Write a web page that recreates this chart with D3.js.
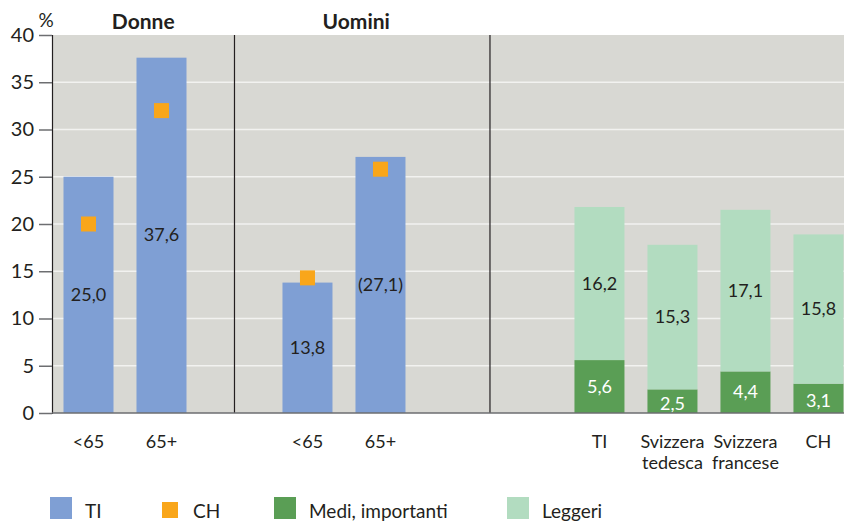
<!DOCTYPE html>
<html>
<head>
<meta charset="utf-8">
<script src="https://cdn.jsdelivr.net/npm/d3@7"></script>
<style>
  body { margin: 0; background: #fff; }
  svg text { font-family: Lato, "Open Sans", sans-serif; fill: #231f20; }
</style>
</head>
<body>
<div id="chart"></div>
<script>
// Data
var groupTitles = ["Donne", "Uomini"];
var ageCats = ["<65", "65+", "<65", "65+"];
var ageSlots = [0, 1, 3, 4];
var tiValues = [25.0, 37.6, 13.8, 27.1];
var tiLabels = ["25,0", "37,6", "13,8", "(27,1)"];
var chValues = [20.0, 32.0, 14.3, 25.8];

var regionCats = [["TI"], ["Svizzera", "tedesca"], ["Svizzera", "francese"], ["CH"]];
var regionSlots = [7, 8, 9, 10];
var mediValues = [5.6, 2.5, 4.4, 3.1];
var leggeriValues = [16.2, 15.3, 17.1, 15.8];

var yTicks = [0, 5, 10, 15, 20, 25, 30, 35, 40];
var legendItems = ["TI", "CH", "Medi, importanti", "Leggeri"];

var fmt = function(v) { return d3.format(".1f")(v).replace(".", ","); };

//Helper variables
var width = 844, height = 521;
var margin = {top: 35, bottom: 108, left: 52};

var svg = d3.select("#chart").append("svg")
    .attr("width", width)
    .attr("height", height);

var x = d3.scaleLinear().domain([-0.5, 10.35]).range([margin.left, width]);
var y = d3.scaleLinear().domain([0, 40]).range([height - margin.bottom, margin.top]);
var barW = 50;

var col = {ti: "#7f9fd4", ch: "#f9a61a", medi: "#5a9e55", leggeri: "#b2dcc0", bg: "#d8d8d3"};

// plot background
svg.append("rect")
    .attr("x", x(-0.5)).attr("y", y(40))
    .attr("width", x(10.35) - x(-0.5)).attr("height", y(0) - y(40))
    .attr("fill", col.bg);

// grid
svg.append("g").selectAll("line")
    .data(yTicks.filter(function(d) { return d > 0 && d < 40; }))
    .join("line")
    .attr("x1", x(-0.5)).attr("x2", width)
    .attr("y1", function(d) { return y(d); }).attr("y2", function(d) { return y(d); })
    .attr("stroke", "#f2f2f0").attr("stroke-width", 1.5);

// y axis
var yAxis = d3.axisLeft(y).tickValues(yTicks).tickSize(13).tickPadding(5);
var gy = svg.append("g")
    .attr("transform", "translate(" + x(-0.5) + ",0)")
    .call(yAxis);
gy.select(".domain").attr("stroke", "#231f20").attr("stroke-width", 1.2);
gy.selectAll(".tick line").attr("stroke", "#6d6e71").attr("stroke-width", 1.5);
gy.selectAll(".tick text").style("font-size", "20px").attr("fill", "#231f20");

svg.append("text").attr("x", 46).attr("y", 27).attr("text-anchor", "middle")
    .style("font-size", "19px").text("%");

// group dividers
svg.append("g").selectAll("line")
    .data([2, 5.5])
    .join("line")
    .attr("x1", function(d) { return x(d); }).attr("x2", function(d) { return x(d); })
    .attr("y1", y(40)).attr("y2", y(0))
    .attr("stroke", "#231f20").attr("stroke-width", 1.2);

// group titles
svg.append("g").selectAll("text")
    .data(groupTitles)
    .join("text")
    .attr("x", function(d, i) { return i == 0 ? (x(-0.5) + x(2)) / 2 : (x(2) + x(5.5)) / 2 - 6; })
    .attr("y", 29)
    .attr("text-anchor", "middle")
    .style("font-size", "21px").style("font-weight", "bold")
    .text(function(d) { return d; });

// TI bars
svg.append("g").selectAll("rect")
    .data(tiValues)
    .join("rect")
    .attr("x", function(d, i) { return x(ageSlots[i]) - barW / 2; })
    .attr("y", function(d) { return y(d); })
    .attr("width", barW)
    .attr("height", function(d) { return y(0) - y(d); })
    .attr("fill", col.ti);

svg.append("g").selectAll("text")
    .data(tiValues)
    .join("text")
    .attr("x", function(d, i) { return x(ageSlots[i]); })
    .attr("y", function(d) { return y(d / 2) + 6; })
    .attr("text-anchor", "middle")
    .style("font-size", "18px")
    .text(function(d, i) { return tiLabels[i]; });

// CH markers
svg.append("g").selectAll("rect")
    .data(chValues)
    .join("rect")
    .attr("x", function(d, i) { return x(ageSlots[i]) - 7.5; })
    .attr("y", function(d) { return y(d) - 7.5; })
    .attr("width", 15).attr("height", 15)
    .attr("fill", col.ch);

// stacked bars
var stackData = mediValues.map(function(m, i) { return {medi: m, leggeri: leggeriValues[i], slot: regionSlots[i]}; });
var series = d3.stack().keys(["medi", "leggeri"])(stackData);

svg.append("g").selectAll("g")
    .data(series)
    .join("g")
    .attr("fill", function(s) { return col[s.key]; })
    .selectAll("rect")
    .data(function(s) { return s; })
    .join("rect")
    .attr("x", function(d) { return x(d.data.slot) - barW / 2; })
    .attr("y", function(d) { return y(d[1]); })
    .attr("width", barW)
    .attr("height", function(d) { return y(d[0]) - y(d[1]); });

svg.append("g").selectAll("g")
    .data(series)
    .join("g")
    .selectAll("text")
    .data(function(s) { return s.map(function(d) { d.key = s.key; return d; }); })
    .join("text")
    .attr("x", function(d) { return x(d.data.slot); })
    .attr("y", function(d) { return y((d[0] + d[1]) / 2) + (d.key == "medi" && d[1] < 3.5 ? 9 : 6); })
    .attr("text-anchor", "middle")
    .style("font-size", "18px")
    .style("fill", function(d) { return d.key == "medi" ? "#fff" : "#231f20"; })
    .text(function(d) { return fmt(d[1] - d[0]); });

// bottom line
svg.append("line")
    .attr("x1", x(-0.5)).attr("x2", width)
    .attr("y1", y(0)).attr("y2", y(0))
    .attr("stroke", "#6d6e71").attr("stroke-width", 1.5);

// x labels
svg.append("g").selectAll("text")
    .data(ageCats)
    .join("text")
    .attr("x", function(d, i) { return x(ageSlots[i]); })
    .attr("y", 448)
    .attr("text-anchor", "middle")
    .style("font-size", "18px")
    .text(function(d) { return d; });

svg.append("g").selectAll("text")
    .data(regionCats)
    .join("text")
    .attr("x", function(d, i) { return x(regionSlots[i]); })
    .attr("y", 448)
    .attr("text-anchor", "middle")
    .style("font-size", "18px")
    .selectAll("tspan")
    .data(function(d) { return d; })
    .join("tspan")
    .attr("x", function() { return d3.select(this.parentNode).attr("x"); })
    .attr("dy", function(d, i) { return i == 0 ? 0 : 21; })
    .text(function(d) { return d; });

// legend
var legend = svg.append("g").selectAll("g")
    .data(legendItems)
    .join("g")
    .attr("transform", function(d, i) { return "translate(" + [50, 161, 274, 507][i] + ",497)"; });

legend.append("rect")
    .attr("x", function(d, i) { return i == 1 ? 1 : 0; })
    .attr("y", function(d, i) { return i == 1 ? 5 : 0; })
    .attr("width", function(d, i) { return i == 1 ? 16 : 22; })
    .attr("height", function(d, i) { return i == 1 ? 16 : 22; })
    .attr("fill", function(d, i) { return [col.ti, col.ch, col.medi, col.leggeri][i]; });

legend.append("text")
    .attr("x", function(d, i) { return i == 1 ? 32 : 35; })
    .attr("y", 21)
    .style("font-size", "19px")
    .text(function(d) { return d; });
</script>
</body>
</html>
